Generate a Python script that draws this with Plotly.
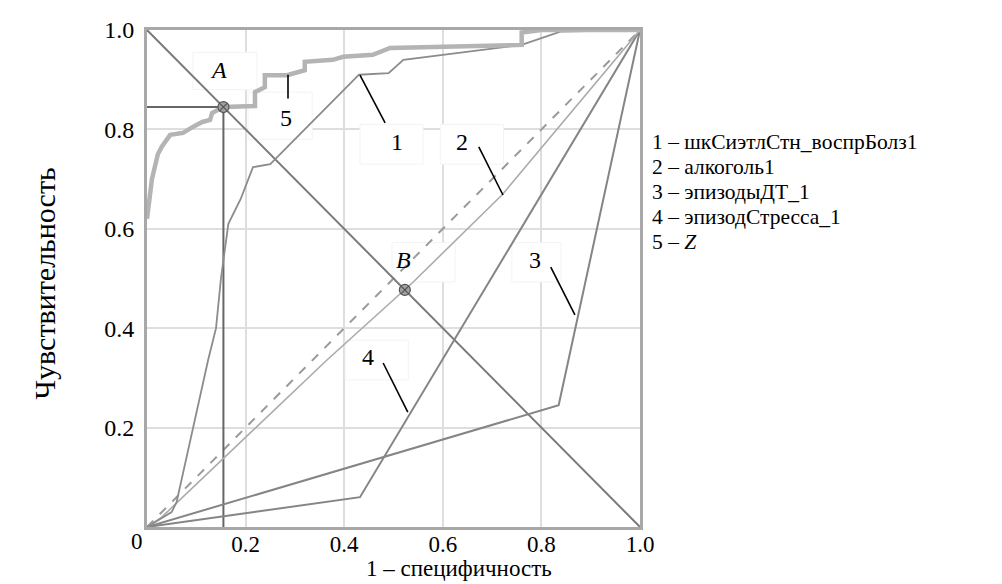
import plotly.graph_objects as go

# ROC curves (1 - specificity, sensitivity)
c1_x = [0, 0.05, 0.06, 0.124, 0.14, 0.15, 0.165, 0.19, 0.215, 0.25, 0.43, 0.49, 0.52, 0.76, 0.84, 1.0]
c1_y = [0, 0.03, 0.05, 0.336, 0.40, 0.50, 0.61, 0.66, 0.724, 0.73, 0.91, 0.913, 0.94, 0.97, 0.997, 1.0]

c2_x = [0, 0.03, 0.365, 0.54, 0.72, 1.0]
c2_y = [0, 0.02, 0.336, 0.493, 0.668, 1.0]

c3_x = [0, 0.835, 1.0]
c3_y = [0, 0.245, 1.0]

c4_x = [0, 0.432, 1.0]
c4_y = [0, 0.06, 1.0]

c5_x = [0, 0.01, 0.022, 0.03, 0.047, 0.073, 0.093, 0.112, 0.128, 0.132, 0.155, 0.219, 0.219,
        0.239, 0.239, 0.284, 0.32, 0.32, 0.377, 0.398, 0.458, 0.493, 0.76, 0.76, 0.80, 1.0]
c5_y = [0.62, 0.70, 0.75, 0.765, 0.789, 0.793, 0.805, 0.815, 0.819, 0.833, 0.845, 0.847, 0.875,
        0.885, 0.909, 0.909, 0.919, 0.936, 0.94, 0.946, 0.95, 0.964, 0.97, 0.995, 1.0, 1.0]

# cut-off points on the line sensitivity = specificity
point_a = (0.155, 0.845)
point_b = (0.523, 0.477)

x_ticks = [0.2, 0.4, 0.6, 0.8, 1.0]
x_tick_text = ["0.2", "0.4", "0.6", "0.8", "1.0"]
y_ticks = [0.2, 0.4, 0.6, 0.8, 1.0]
y_tick_text = ["0.2", "0.4", "0.6", "0.8", "1.0"]

legend_lines = [
    "1 – шкСиэтлСтн_воспрБолз1",
    "2 – алкоголь1",
    "3 – эпизодыДТ_1",
    "4 – эпизодСтресса_1",
    "5 – <i>Z</i>",
]

x_title = "1 – специфичность"
y_title = "Чувствительность"

FONT = "Liberation Serif"

fig = go.Figure()

def line(x, y, color, width, dash="solid"):
    fig.add_trace(go.Scatter(x=x, y=y, mode="lines", showlegend=False, hoverinfo="skip",
                             line=dict(color=color, width=width, dash=dash)))

# reference diagonals
line([0, 1], [0, 1], "#9a9a9a", 2, "dash")
line([0, 1], [1, 0], "#7a7a7a", 2)
# cut-off guide lines through A
line([0, point_a[0], point_a[0]], [point_a[1], point_a[1], 0], "#666666", 2)
# curves
line(c3_x, c3_y, "#858585", 2)
line(c4_x, c4_y, "#858585", 2)
line(c2_x, c2_y, "#ababab", 1.6)
line(c1_x, c1_y, "#8c8c8c", 1.8)
line(c5_x, c5_y, "#b4b4b4", 4.5)

fig.add_trace(go.Scatter(
    x=[point_a[0], point_b[0]], y=[point_a[1], point_b[1]], mode="markers",
    showlegend=False, hoverinfo="skip",
    marker=dict(symbol="circle-x", size=11, color="#a0a0a0",
                line=dict(color="#555555", width=1.2))))

shapes = []
# white label boxes (between grid and traces)
label_boxes = [  # x0, x1, y0, y1 in data units
    (0.093, 0.223, 0.88, 0.955),   # A
    (0.205, 0.335, 0.78, 0.875),   # 5
    (0.432, 0.560, 0.730, 0.810),   # 1
    (0.595, 0.723, 0.730, 0.810),   # 2
    (0.497, 0.625, 0.493, 0.572),   # B
    (0.740, 0.840, 0.493, 0.572),   # 3
    (0.402, 0.530, 0.296, 0.376),   # 4
]
for x0, x1, y0, y1 in label_boxes:
    shapes.append(dict(type="rect", xref="x", yref="y", x0=x0, x1=x1, y0=y0, y1=y1,
                       fillcolor="white", line=dict(color="#f3f3f3", width=1), layer="between"))

# callout strokes
callouts = [
    (0.286, 0.91, 0.286, 0.862),
    (0.432, 0.909, 0.483, 0.813),
    (0.673, 0.765, 0.722, 0.668),
    (0.819, 0.523, 0.868, 0.427),
    (0.479, 0.33, 0.529, 0.231),
]
for x0, y0, x1, y1 in callouts:
    shapes.append(dict(type="line", xref="x", yref="y", x0=x0, y0=y0, x1=x1, y1=y1,
                       line=dict(color="black", width=1.6), layer="above"))

annotations = []
labels = [
    ("<i>A</i>", 0.146, 0.92),
    ("5", 0.281, 0.822),
    ("1", 0.507, 0.775),
    ("2", 0.639, 0.775),
    ("<i>B</i>", 0.521, 0.537),
    ("3", 0.787, 0.537),
    ("4", 0.448, 0.342),
]
for t, x, y in labels:
    annotations.append(dict(text=t, x=x, y=y, xref="x", yref="y", showarrow=False,
                            font=dict(family=FONT, size=24, color="black")))

for i, t in enumerate(legend_lines):
    annotations.append(dict(text=t, x=1.02, y=0.775 - i * 0.0503, xref="paper", yref="paper",
                            xanchor="left", yanchor="middle", showarrow=False,
                            font=dict(family=FONT, size=21.5, color="black")))

annotations.append(dict(text="0", x=-0.005, y=-0.03, xref="paper", yref="paper",
                        xanchor="right", yanchor="middle", showarrow=False,
                        font=dict(family=FONT, size=23, color="black")))

# axis titles
annotations.append(dict(text=x_title, x=0.633, y=-0.083, xref="paper", yref="paper",
                        xanchor="center", yanchor="middle", showarrow=False,
                        font=dict(family=FONT, size=23, color="black")))
annotations.append(dict(text=y_title, x=-0.207, y=0.49, xref="paper", yref="paper",
                        xanchor="center", yanchor="middle", textangle=-90, showarrow=False,
                        font=dict(family=FONT, size=30, color="black")))

fig.update_layout(
    width=1002, height=584,
    margin=dict(l=147, r=362, t=30, b=57),
    paper_bgcolor="white", plot_bgcolor="white",
    font=dict(family=FONT, size=23, color="black"),
    shapes=shapes, annotations=annotations,
    xaxis=dict(range=[0, 1], tickvals=x_ticks, ticktext=x_tick_text, ticks="",
               showgrid=True, gridcolor="#dedede", gridwidth=2, zeroline=False,
               showline=True, linecolor="#a8a8a8", linewidth=3, mirror=True,
               ticklabelstandoff=-6,
               tickfont=dict(family=FONT, size=23)),
    yaxis=dict(range=[0, 1], tickvals=y_ticks, ticktext=y_tick_text, ticks="",
               showgrid=True, gridcolor="#dedede", gridwidth=2, zeroline=False,
               showline=True, linecolor="#a8a8a8", linewidth=3, mirror=True,
               ticklabelstandoff=5,
               tickfont=dict(family=FONT, size=24)),
)

fig.write_html("out.html")
